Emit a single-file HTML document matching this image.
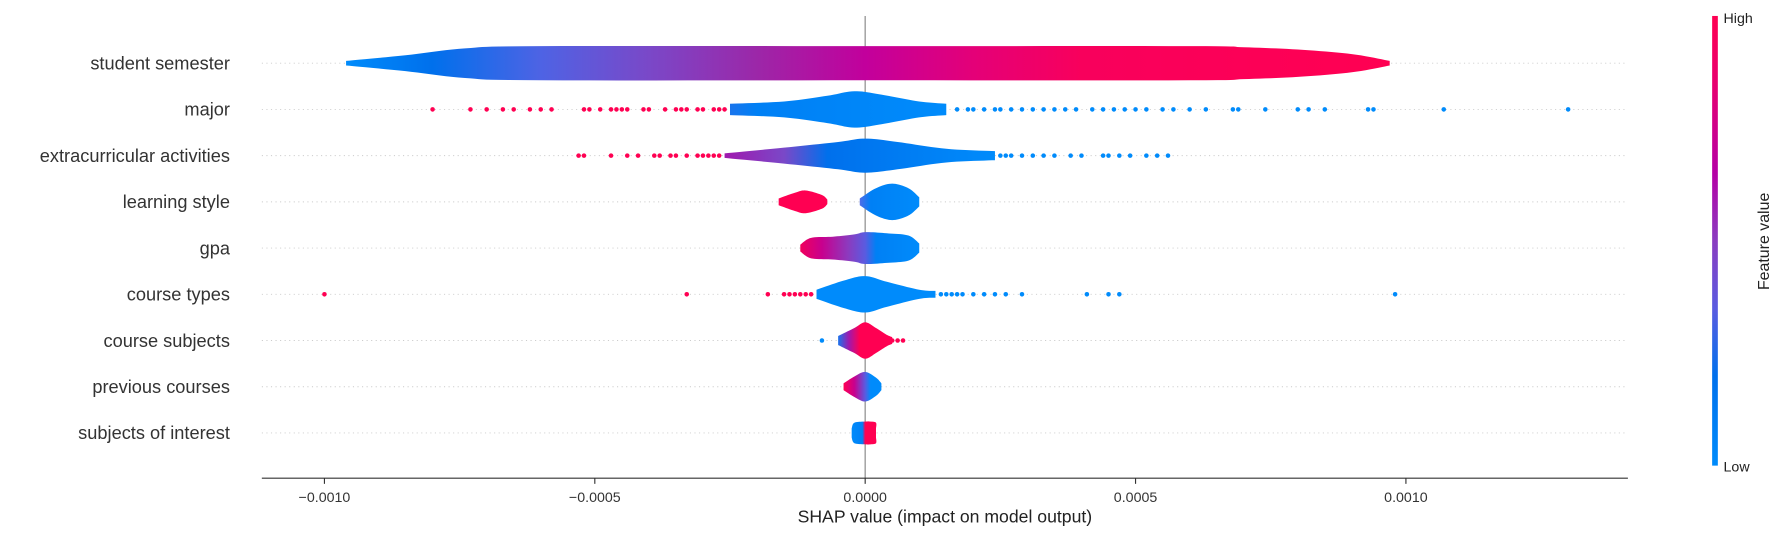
<!DOCTYPE html>
<html><head><meta charset="utf-8"><style>
html,body{margin:0;padding:0;background:#fff;}
svg{display:block;font-family:"Liberation Sans","DejaVu Sans",sans-serif;}
</style></head><body>
<svg id="chart" width="1785" height="536" viewBox="0 0 1568 470.8" xmlns="http://www.w3.org/2000/svg">
<defs>
<linearGradient id="cbar" x1="0" y1="1" x2="0" y2="0">
<stop offset="0" stop-color="#008bfb"/><stop offset="0.2" stop-color="#0070ec"/><stop offset="0.35" stop-color="#5a5be0"/><stop offset="0.5" stop-color="#8a3cc0"/><stop offset="0.65" stop-color="#b500a5"/><stop offset="0.85" stop-color="#e8006f"/><stop offset="1" stop-color="#ff0052"/>
</linearGradient>
</defs>
<g id="plot"></g>
</svg>
<script>
const features = ["student semester","major","extracurricular activities","learning style","gpa","course types","course subjects","previous courses","subjects of interest"];
const xTicks = [-0.001,-0.0005,0,0.0005,0.001];
const xTickLabels = ["\u22120.0010","\u22120.0005","0.0000","0.0005","0.0010"];
// violin profiles: [shap value, half-width px]
const violinSemester = [[-0.00096,2],[-0.00085,7],[-0.00074,13],[-0.0006,15],[0,15],[0.0006,15],[0.0007,14],[0.0008,12],[0.0009,8],[0.00097,2]];
const violinMajor = [[-0.00025,5],[-0.00015,7],[-0.00007,12],[-0.00002,16],[0.00003,13],[0.0001,7],[0.00015,5]];
const violinExtra = [[-0.00026,2],[-0.00015,7],[-0.00005,12],[0,15],[0.00006,12],[0.00015,6],[0.00024,4]];
const violinLearnA = [[-0.00016,3],[-0.00013,8],[-0.00011,10],[-0.00008,6],[-0.00007,2]];
const violinLearnB = [[-0.00001,3],[0.00002,12],[0.00005,16],[0.00008,12],[0.0001,4]];
const violinGpa = [[-0.00012,3],[-0.0001,9],[-0.00006,10],[-0.00002,12],[0,14],[0.00004,13],[0.00008,11],[0.0001,4]];
const violinCourseTypes = [[-0.00009,4],[-0.00004,12],[0,16],[0.00004,11],[0.0001,4],[0.00013,3]];
const violinSubjects = [[-0.00005,4],[-0.00002,11],[0,16],[0.00002,11],[0.00004,5],[0.00005,3]];
const violinPrev = [[-0.00004,3],[-0.00002,9],[0,13],[0.00002,8],[0.00003,3]];
const violinInterest = [[-0.000025,4],[-0.00002,9],[0,10],[0.00001,10],[0.00002,9],[0.00002,4]];
// color stops along value: [shap value, color]
const gradSemester = [[-0.00096,"#008bfb"],[-0.0008,"#0070ec"],[-0.0006,"#4e63e4"],[-0.0004,"#7a48c8"],[-0.0002,"#9c27a8"],[0,"#c2009c"],[0.0002,"#e40078"],[0.0004,"#f8005c"],[0.00097,"#ff0052"]];
const gradMajor = [[-0.00025,"#1a74ec"],[-0.0002,"#0080f5"],[0.00015,"#008bfb"]];
const gradExtra = [[-0.00026,"#a018ad"],[-0.00015,"#7a48c8"],[-0.00007,"#0070ec"],[0.00024,"#008bfb"]];
const gradLearnA = [[-0.00016,"#ff0052"],[-0.00007,"#ff0052"]];
const gradLearnB = [[-0.00001,"#4e6ce8"],[0.00001,"#0080f5"],[0.0001,"#008bfb"]];
const gradGpa = [[-0.00012,"#f0005c"],[-0.00008,"#c8008e"],[-0.00003,"#8a3cc0"],[0,"#5a5be0"],[0.00002,"#0080f5"],[0.0001,"#008bfb"]];
const gradCourseTypes = [[-0.00009,"#008bfb"],[0.00013,"#008bfb"]];
const gradSubjects = [[-0.00005,"#1a74ec"],[-0.00003,"#a018ad"],[-0.00001,"#ff0052"],[0.00005,"#ff0052"]];
const gradPrev = [[-0.00004,"#ff0052"],[-0.00002,"#c8008e"],[0,"#5a5be0"],[0.00001,"#008bfb"],[0.00003,"#008bfb"]];
const gradInterest = [[-0.000025,"#008bfb"],[-0.000005,"#0080f5"],[0,"#ff0052"],[0.00002,"#ff0052"]];
// outlier dots
const dotsMajorRed = [-0.0008,-0.00073,-0.0007,-0.00067,-0.00065,-0.00062,-0.0006,-0.00058,-0.00052,-0.00051,-0.00049,-0.00047,-0.00046,-0.00045,-0.00044,-0.00041,-0.0004,-0.00037,-0.00035,-0.00034,-0.00033,-0.00031,-0.0003,-0.00028,-0.00027,-0.00026];
const dotsMajorBlue = [0.00017,0.00019,0.0002,0.00022,0.00024,0.00025,0.00027,0.00029,0.00031,0.00033,0.00035,0.00037,0.00039,0.00042,0.00044,0.00046,0.00048,0.0005,0.00052,0.00055,0.00057,0.0006,0.00063,0.00068,0.00069,0.00074,0.0008,0.00082,0.00085,0.00093,0.00094,0.00107,0.0013];
const dotsExtraRed = [-0.00053,-0.00052,-0.00047,-0.00044,-0.00042,-0.00039,-0.00038,-0.00036,-0.00035,-0.00033,-0.00031,-0.0003,-0.00029,-0.00028,-0.00027];
const dotsExtraBlue = [0.00025,0.00026,0.00027,0.00029,0.00031,0.00033,0.00035,0.00038,0.0004,0.00044,0.00045,0.00047,0.00049,0.00052,0.00054,0.00056];
const dotsCourseRed = [-0.001,-0.00033,-0.00018,-0.00015,-0.00014,-0.00013,-0.00012,-0.00011,-0.0001];
const dotsCourseBlue = [0.00014,0.00015,0.00016,0.00017,0.00018,0.0002,0.00022,0.00024,0.00026,0.00029,0.00041,0.00045,0.00047,0.00098];
const dotsSubjRed = [0.00005,0.00006,0.00007];
const dotsSubjBlue = [-0.00008,-0.000045];

const NS="http://www.w3.org/2000/svg";
const g=document.getElementById('plot');
const X0=230,X1=1430,ZERO=760,PXPER=475000;
function xs(v){return ZERO+v*PXPER;}
function ys(i){return 55.5+i*40.6;}
function mk(tag,attrs,parent){const e=document.createElementNS(NS,tag);for(const k in attrs)e.setAttribute(k,attrs[k]);(parent||g).appendChild(e);return e;}

features.forEach((f,i)=>{
  const ln=mk('line',{x1:X0,x2:X1,y1:ys(i),y2:ys(i),stroke:'#ccc','stroke-width':0.8,'stroke-dasharray':'1,3'});
  
  
  const t=mk('text',{x:202,y:ys(i)+5.5,'text-anchor':'end','font-size':16,fill:'#333'});
  t.textContent=f;
  
  
});
const zl=mk('line',{x1:ZERO,x2:ZERO,y1:14,y2:420,stroke:'#999','stroke-width':1.2});



let gid=0;
const defs=document.querySelector('defs');
function violin(prof,grad,row){
  const id='vg'+(gid++);
  const lg=mk('linearGradient',{id:id,gradientUnits:'userSpaceOnUse',x1:xs(prof[0][0]),x2:xs(prof[prof.length-1][0]),y1:0,y2:0},defs);
  const a=prof[0][0],b=prof[prof.length-1][0];
  grad.forEach(s=>{mk('stop',{offset:Math.max(0,Math.min(1,(s[0]-a)/(b-a))),'stop-color':s[1]},lg);});
  const y=ys(row);
  const pts=[];
  for(let k=0;k<prof.length-1;k++){
    const p0=prof[Math.max(0,k-1)],p1=prof[k],p2=prof[k+1],p3=prof[Math.min(prof.length-1,k+2)];
    for(let t=0;t<1;t+=0.1){
      const t2=t*t,t3=t2*t;
      const f=(q0,q1,q2,q3)=>0.5*((2*q1)+(-q0+q2)*t+(2*q0-5*q1+4*q2-q3)*t2+(-q0+3*q1-3*q2+q3)*t3);
      pts.push([xs(f(p0[0],p1[0],p2[0],p3[0])),Math.max(0,f(p0[1],p1[1],p2[1],p3[1]))]);
    }
  }
  const last=prof[prof.length-1];pts.push([xs(last[0]),last[1]]);
  let d='M'+pts.map(p=>p[0].toFixed(2)+','+(y-p[1]).toFixed(2)).join('L');
  d+='L'+pts.slice().reverse().map(p=>p[0].toFixed(2)+','+(y+p[1]).toFixed(2)).join('L')+'Z';
  const p=mk('path',{d:d,fill:'url(#'+id+')'});
  
  
}
function dots(arr,color,row){
  arr.forEach(v=>{
    const c=mk('circle',{cx:xs(v),cy:ys(row),r:2,fill:color});
    
    
  });
}
violin(violinSemester,gradSemester,0);
dots(dotsMajorRed,'#ff0052',1);dots(dotsMajorBlue,'#008bfb',1);
violin(violinMajor,gradMajor,1);
dots(dotsExtraRed,'#ff0052',2);dots(dotsExtraBlue,'#008bfb',2);
violin(violinExtra,gradExtra,2);
violin(violinLearnA,gradLearnA,3);violin(violinLearnB,gradLearnB,3);
violin(violinGpa,gradGpa,4);
dots(dotsCourseRed,'#ff0052',5);dots(dotsCourseBlue,'#008bfb',5);
violin(violinCourseTypes,gradCourseTypes,5);
dots(dotsSubjRed,'#ff0052',6);dots(dotsSubjBlue,'#008bfb',6);
violin(violinSubjects,gradSubjects,6);
violin(violinPrev,gradPrev,7);
violin(violinInterest,gradInterest,8);

const ax=mk('line',{x1:X0,x2:X1,y1:420,y2:420,stroke:'#333','stroke-width':1});


xTicks.forEach((v,i)=>{
  const tk=mk('line',{x1:xs(v),x2:xs(v),y1:420,y2:425,stroke:'#333','stroke-width':1});
  
  
  const tl=mk('text',{x:xs(v),y:441,'text-anchor':'middle','font-size':12.5,fill:'#333'});
  tl.textContent=xTickLabels[i];
  
  
});
const xt=mk('text',{x:830,y:459,'text-anchor':'middle','font-size':15.5,fill:'#222'});
xt.textContent='SHAP value (impact on model output)';



const cb=mk('rect',{x:1504,y:14,width:5,height:395,fill:'url(#cbar)'});


const hi=mk('text',{x:1514,y:20,'font-size':12.5,fill:'#222'});hi.textContent='High';


const lo=mk('text',{x:1514,y:414,'font-size':12.5,fill:'#222'});lo.textContent='Low';


const fv=mk('text',{x:1554,y:212,'text-anchor':'middle','font-size':14,fill:'#222',transform:'rotate(-90 1554 212)'});
fv.textContent='Feature value';


</script>
</body></html>
